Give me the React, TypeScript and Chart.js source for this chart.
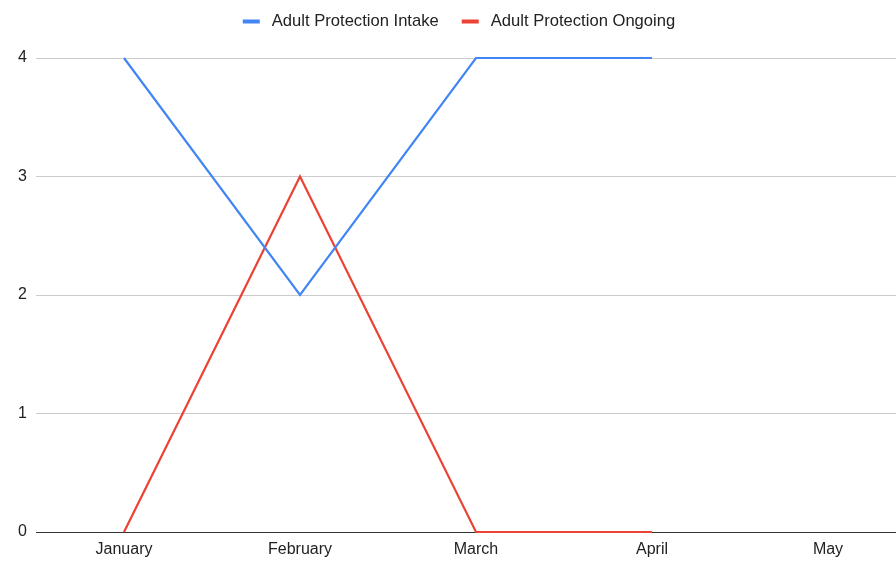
import React, { useEffect, useRef } from "react";
import { Chart, registerables } from "chart.js";

Chart.register(...registerables);

const categories = ["January", "February", "March", "April", "May"];
const intakeValues = [4, 2, 4, 4, null];
const ongoingValues = [0, 3, 0, 0, null];
const yTicks = [0, 1, 2, 3, 4];

const FONT = "'Liberation Sans', Arial, sans-serif";

const customLegend = {
  id: "customLegend",
  afterDraw(c: any) {
    const ctx = c.ctx;
    const fontSize = 16.6;
    const boxW = 17;
    const boxH = 4;
    const gapText = 12;
    const gapItem = 23;
    ctx.save();
    ctx.font = `${fontSize}px ${FONT}`;
    const items = c.data.datasets.map((d: any) => ({
      label: d.label,
      color: d.borderColor,
      w: boxW + gapText + ctx.measureText(d.label).width,
    }));
    const total =
      items.reduce((s: number, it: any) => s + it.w, 0) + gapItem * (items.length - 1);
    let x = c.width / 2 - total / 2;
    const y = 21.5;
    ctx.textBaseline = "middle";
    ctx.textAlign = "left";
    for (const it of items) {
      ctx.fillStyle = it.color;
      ctx.fillRect(x, y - boxH / 2, boxW, boxH);
      ctx.fillStyle = "#222";
      ctx.fillText(it.label, x + boxW + gapText, y);
      x += it.w + gapItem;
    }
    ctx.restore();
  },
};

export default function App() {
  const ref = useRef<HTMLCanvasElement | null>(null);

  useEffect(() => {
    if (!ref.current) return;
    const chart = new Chart(ref.current, {
      type: "line",
      data: {
        labels: categories,
        datasets: [
          {
            label: "Adult Protection Intake",
            data: intakeValues,
            borderColor: "#4285F4",
            backgroundColor: "#4285F4",
            borderWidth: 2.2,
            pointRadius: 0,
            tension: 0,
            clip: false,
          },
          {
            label: "Adult Protection Ongoing",
            data: ongoingValues,
            borderColor: "#EA4335",
            backgroundColor: "#EA4335",
            borderWidth: 2.2,
            pointRadius: 0,
            tension: 0,
            clip: false,
          },
        ],
      },
      options: {
        responsive: false,
        animation: false,
        layout: { padding: { left: 0, right: 2, top: 58, bottom: 0 } },
        plugins: {
          tooltip: { enabled: false },
          legend: { display: false },
        },
        scales: {
          x: {
            offset: true,
            grid: { display: false, drawTicks: false },
            border: { display: false },
            ticks: {
              padding: 8,
              color: "#222",
              font: { family: FONT, size: 16 },
            },
            afterFit: (s: any) => {
              s.height = 33;
            },
          },
          y: {
            min: 0,
            max: 4,
            afterBuildTicks: (s: any) => {
              s.ticks = yTicks.map((v) => ({ value: v }));
            },
            grid: {
              drawTicks: false,
              color: (c: any) => (c.tick && c.tick.value === 0 ? "#333" : "#ccc"),
              lineWidth: 1,
            },
            border: { display: false },
            ticks: {
              padding: 9,
              color: "#222",
              font: { family: FONT, size: 16 },
            },
            afterFit: (s: any) => {
              s.width = 36;
            },
          },
        },
      },
      plugins: [customLegend],
    });
    return () => chart.destroy();
  }, []);

  return (
    <div
      style={{
        position: "absolute",
        left: 0,
        top: 0,
        width: 896,
        height: 565,
        overflow: "hidden",
        background: "#fff",
      }}
    >
      <canvas ref={ref} width={918} height={565} style={{ display: "block" }} />
    </div>
  );
}
